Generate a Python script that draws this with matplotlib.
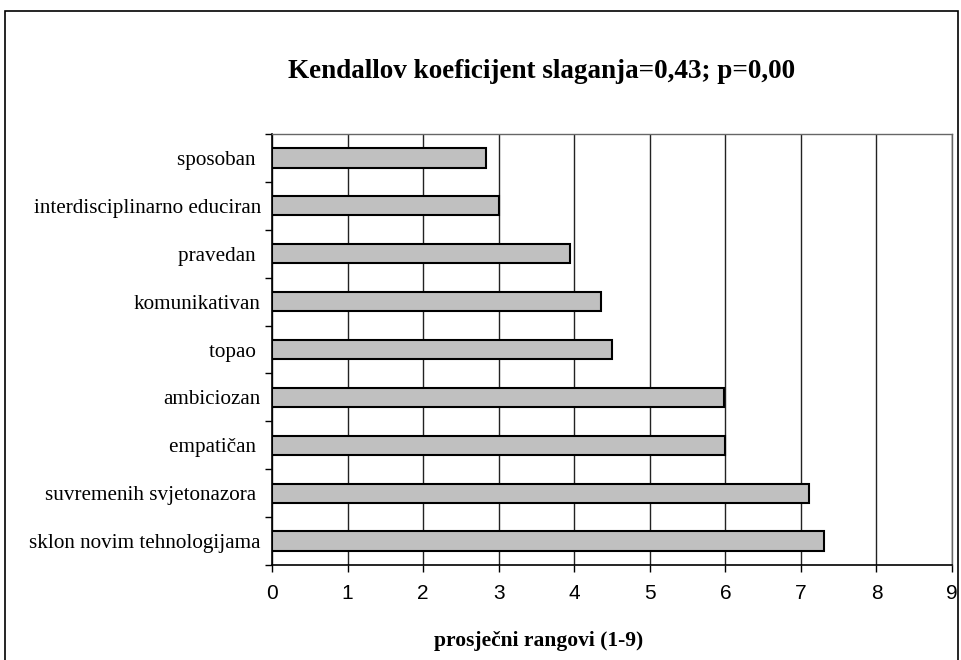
import matplotlib
matplotlib.use("Agg")
import matplotlib.pyplot as plt
from matplotlib.patches import Rectangle
import numpy as np

categories = ["sposoban ", "interdisciplinarno educiran", "pravedan ", "komunikativan",
              "topao ", "ambiciozan", "empatičan ", "suvremenih svjetonazora ",
              "sklon novim tehnologijama"]
values = [2.83, 3.0, 3.95, 4.35, 4.5, 5.98, 6.0, 7.11, 7.31]
xticks = [0, 1, 2, 3, 4, 5, 6, 7, 8, 9]
title = "Kendallov koeficijent slaganja=0,43; p=0,00"
xlabel = "prosječni rangovi (1-9)"

fig = plt.figure(figsize=(9.62, 6.6), dpi=100)
ax = fig.add_axes([272/962, 1-565/660, 680/962, 431/660])

y = np.arange(len(categories))
ax.barh(y, values, height=0.4, color="#c0c0c0", edgecolor="black", linewidth=1.5, zorder=3)
ax.set_ylim(len(categories)-0.5, -0.5)
ax.set_xlim(0, 9)
ax.set_xticks(xticks)
ax.set_xticklabels([str(t) for t in xticks], family="Liberation Sans", fontsize=15)
ax.set_yticks(y)
ax.set_yticklabels(categories, family="Liberation Serif", fontsize=15.2)
ax.set_yticks(np.arange(len(categories)+1)-0.5, minor=True)
ax.tick_params(axis="y", which="major", length=0, pad=8)
ax.tick_params(axis="y", which="minor", length=5, width=1, color="black")
ax.tick_params(axis="x", which="major", length=5, width=1, color="black", pad=9)
ax.grid(axis="x", color="#222222", linewidth=1, zorder=0)
for s in ["top", "right"]:
    ax.spines[s].set_color("#666666")
    ax.spines[s].set_linewidth(1)
for s in ["left", "bottom"]:
    ax.spines[s].set_color("black")
    ax.spines[s].set_linewidth(1.2)

fig.text(539/962, 1-641/660, xlabel, family="Liberation Serif", fontweight="bold",
         fontsize=15.5, ha="center", va="center")
fig.text(542/962, 1-72/660, title, family="Liberation Serif", fontweight="bold",
         fontsize=19.5, ha="center", va="center")

fig.patches.append(Rectangle((5/962, -0.1), 953/962, 1.1-11/660, transform=fig.transFigure,
                             fill=False, edgecolor="black", linewidth=1.2))

fig.savefig("out.png", dpi=100)
